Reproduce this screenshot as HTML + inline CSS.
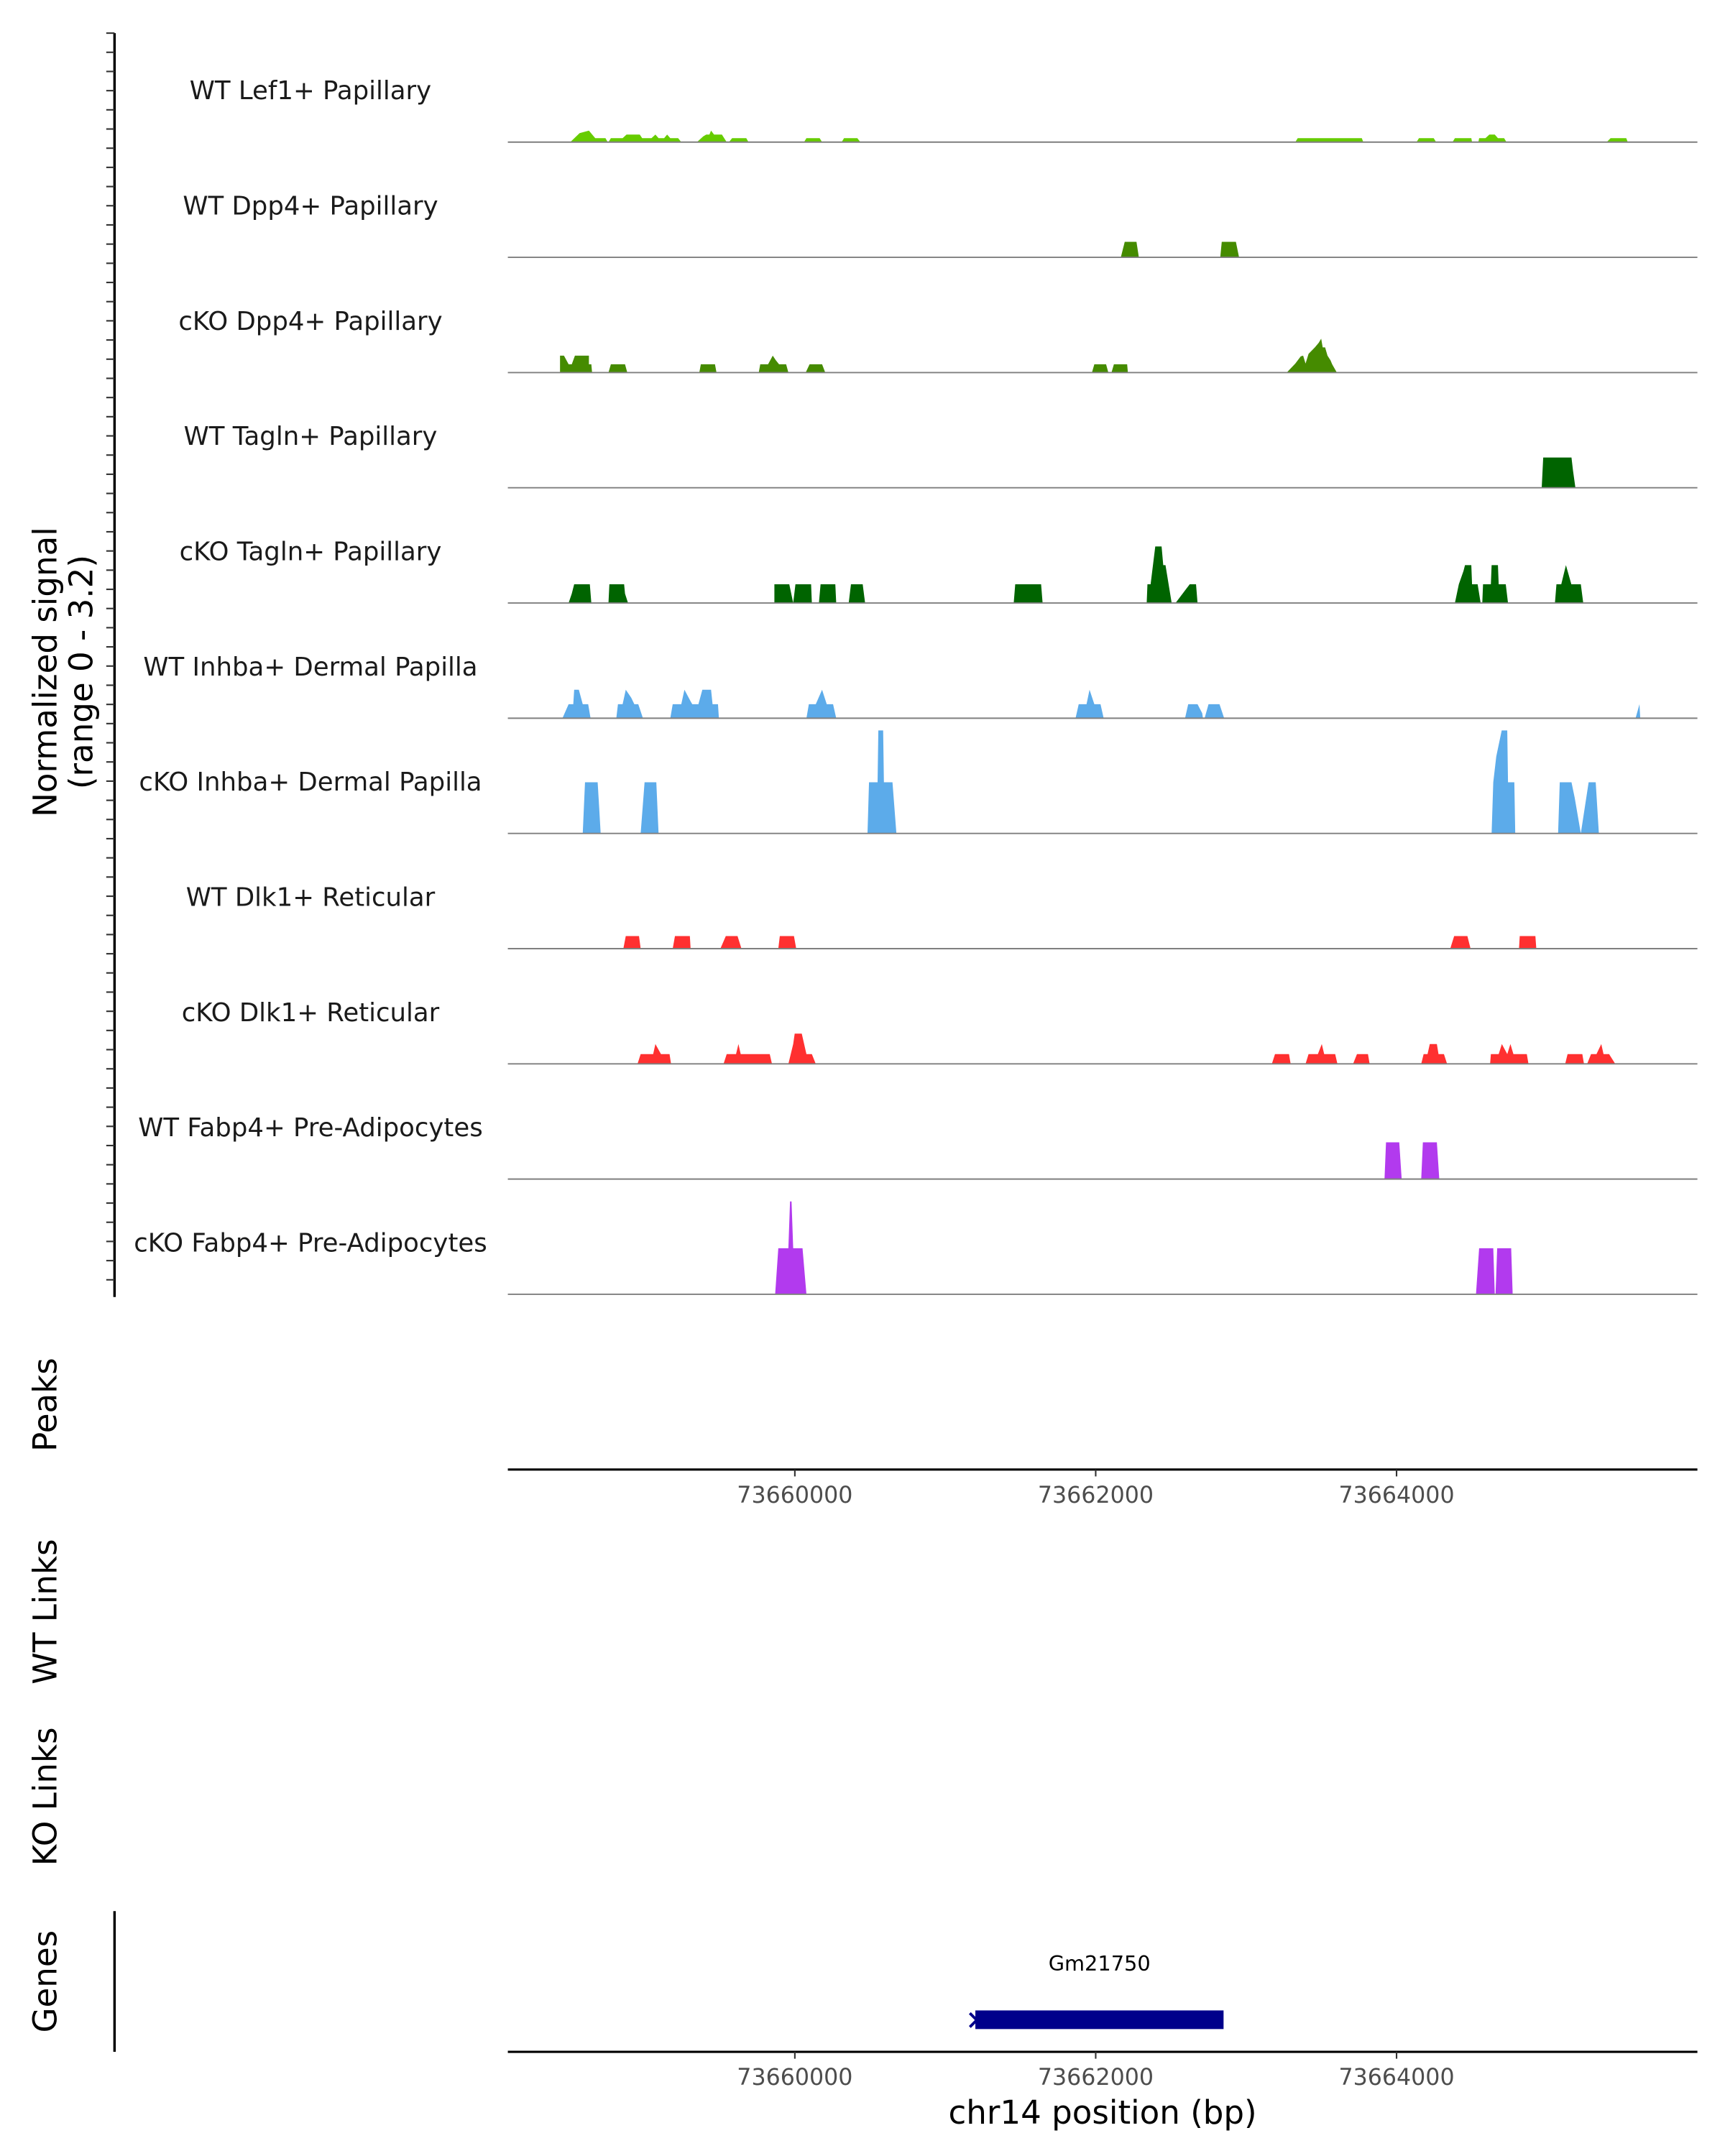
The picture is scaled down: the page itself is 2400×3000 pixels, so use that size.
<!DOCTYPE html>
<html><head><meta charset="utf-8"><style>
html,body{margin:0;padding:0;background:#fff;}
svg{display:block;}
text{font-family:"DejaVu Sans","Liberation Sans",sans-serif;}
</style></head><body>
<svg id="chart" width="2400" height="3000" viewBox="0 0 1250 1562.5" xmlns="http://www.w3.org/2000/svg">
<g id="axes"></g>
<g id="tracks"></g>
</svg>
<script>
const REGION_START = 73658092;
const REGION_END = 73666000;
const BASE = 73658020;
const Y_MAX = 3.2;
const trackNames = ["WT Lef1+ Papillary","WT Dpp4+ Papillary","cKO Dpp4+ Papillary","WT Tagln+ Papillary","cKO Tagln+ Papillary","WT Inhba+ Dermal Papilla","cKO Inhba+ Dermal Papilla","WT Dlk1+ Reticular","cKO Dlk1+ Reticular","WT Fabp4+ Pre-Adipocytes","cKO Fabp4+ Pre-Adipocytes"];
const trackColors = ["#66cc00","#458b00","#458b00","#006400","#006400","#5cabea","#5cabea","#ff3030","#ff3030","#b23aee","#b23aee"];
const xTicks = [73660000,73662000,73664000];
// peaks: flat [offsetFromBASE, value, ...]
const peaksLef1WT = [
 [487,0,549,0.25,611,0.32,653,0.11,721,0.11,736,0, 741,0,757,0.11,835,0.11,861,0.21,949,0.21,965,0.11,1027,0.11,1053,0.21,1074,0.11,1111,0.11,1131,0.21,1152,0.11,1204,0.11,1225,0],
 [1329,0,1371,0.16,1391,0.21,1412,0.21,1423,0.32,1443,0.21,1495,0.21,1527,0, 1542,0,1563,0.11,1657,0.11,1672,0],
 [2041,0,2057,0.11,2145,0.11,2161,0],[2291,0,2307,0.11,2395,0.11,2416,0],
 [5307,0,5323,0.11,5749,0.11,5759,0],
 [6113,0,6129,0.11,6227,0.11,6243,0],[6352,0,6368,0.11,6477,0.11,6482,0],
 [6524,0,6529,0.11,6571,0.11,6597,0.21,6633,0.21,6654,0.11,6695,0.11,6711,0],
 [7377,0,7403,0.11,7507,0.11,7517,0]];
const peaksDpp4WT = [[4147,0,4173,0.43,4251,0.43,4267,0],[4808,0,4818,0.43,4912,0.43,4933,0]];
const peaksDpp4KO = [
 [419,0,419,0.47,445,0.47,476,0.23,497,0.23,518,0.47,611,0.47,611,0.23,627,0.23,632,0],
 [741,0,757,0.23,851,0.23,866,0],[1345,0,1355,0.23,1449,0.23,1459,0],
 [1740,0,1750,0.23,1802,0.23,1833,0.47,1854,0.34,1875,0.23,1922,0.23,1937,0],
 [2052,0,2078,0.23,2161,0.23,2182,0],
 [3955,0,3971,0.23,4049,0.23,4064,0],[4085,0,4101,0.23,4189,0.23,4194,0],
 [5250,0,5307,0.25,5343,0.45,5359,0.47,5375,0.25,5395,0.52,5437,0.70,5463,0.83,5479,0.94,5489,0.70,5505,0.70,5521,0.47,5541,0.34,5552,0.23,5583,0]];
const peaksTaglnWT = [[6945,0,6955,0.84,7143,0.84,7153,0.48,7169,0]];
const peaksTaglnKO = [
 [476,0,497,0.26,513,0.52,617,0.52,627,0],[741,0,747,0.52,845,0.52,851,0.26,871,0],
 [1844,0,1844,0.52,1943,0.52,1969,0,1984,0.52,2088,0.52,2093,0],
 [2140,0,2151,0.52,2249,0.52,2255,0],[2338,0,2353,0.52,2431,0.52,2447,0],
 [3435,0,3445,0.52,3617,0.52,3627,0],
 [4319,0,4324,0.52,4345,0.52,4376,1.57,4418,1.57,4429,1.05,4444,1.05,4485,0],
 [4511,0,4605,0.52,4647,0.52,4657,0],
 [6368,0,6394,0.52,6425,0.89,6435,1.05,6477,1.05,6482,0.52,6519,0.52,6539,0],
 [6550,0,6555,0.52,6607,0.52,6612,1.05,6654,1.05,6659,0.52,6706,0.52,6721,0],
 [7033,0,7043,0.52,7075,0.52,7106,1.05,7142,0.52,7205,0.52,7221,0]];
const peaksInhbaWT = [
 [435,0,476,0.39,507,0.39,513,0.79,544,0.79,570,0.39,606,0.39,622,0],
 [793,0,804,0.39,835,0.39,856,0.79,892,0.57,913,0.39,939,0.39,970,0],
 [1152,0,1168,0.39,1225,0.39,1246,0.79,1287,0.47,1298,0.39,1339,0.39,1365,0.79,1423,0.79,1433,0.39,1469,0.39,1475,0],
 [2057,0,2073,0.39,2119,0.39,2161,0.79,2192,0.39,2234,0.39,2255,0],
 [3846,0,3867,0.39,3919,0.39,3939,0.79,3971,0.39,4012,0.39,4033,0],
 [4574,0,4595,0.39,4657,0.39,4688,0.14,4693,0],[4704,0,4730,0.39,4803,0.39,4834,0],
 [7569,0,7595,0.39,7600,0]];
const peaksInhbaKO = [
 [570,0,585,1.42,669,1.42,679,0.73,689,0],[955,0,981,1.42,1059,1.42,1074,0],
 [2463,0,2473,1.42,2530,1.42,2535,2.86,2567,2.86,2572,1.42,2629,1.42,2655,0],
 [6612,0,6623,1.42,6643,2.14,6679,2.86,6716,2.86,6721,1.42,6763,1.42,6769,0],
 [7054,0,7065,1.42,7143,1.42,7164,1.0,7205,0,7257,1.42,7304,1.42,7325,0]];
const peaksDlk1WT = [[840,0,856,0.35,944,0.35,955,0],[1168,0,1183,0.35,1282,0.35,1287,0],[1485,0,1521,0.35,1599,0.35,1625,0],[1870,0,1880,0.35,1974,0.35,1989,0],[6337,0,6363,0.35,6451,0.35,6472,0],[6794,0,6799,0.35,6903,0.35,6909,0]];
const peaksDlk1KO = [
 [934,0,955,0.27,1038,0.27,1053,0.55,1090,0.27,1147,0.27,1157,0],
 [1506,0,1527,0.27,1589,0.27,1605,0.55,1620,0.27,1813,0.27,1828,0],
 [1937,0,1969,0.55,1979,0.84,2026,0.84,2057,0.27,2093,0.27,2119,0],
 [5151,0,5172,0.27,5265,0.27,5276,0],
 [5375,0,5395,0.27,5457,0.27,5483,0.55,5499,0.27,5572,0.27,5587,0],
 [5691,0,5717,0.27,5790,0.27,5801,0],
 [6144,0,6160,0.27,6186,0.27,6201,0.55,6248,0.55,6259,0.27,6295,0.27,6316,0],
 [6602,0,6607,0.27,6659,0.27,6680,0.55,6716,0.27,6737,0.55,6757,0.27,6846,0.27,6857,0],
 [7101,0,7117,0.27,7215,0.27,7226,0],
 [7247,0,7273,0.27,7309,0.27,7341,0.55,7356,0.27,7393,0.27,7434,0]];
const peaksFabp4WT = [[5900,0,5910,1.02,5998,1.02,6014,0],[6144,0,6155,1.02,6248,1.02,6264,0]];
const peaksFabp4KO = [[1849,0,1870,1.28,1937,1.28,1948,2.58,1958,2.58,1969,1.28,2031,1.28,2057,0],[6508,0,6529,1.28,6623,1.28,6633,0],[6638,0,6649,1.28,6742,1.28,6752,0]];
const allPeaks = [peaksLef1WT,peaksDpp4WT,peaksDpp4KO,peaksTaglnWT,peaksTaglnKO,peaksInhbaWT,peaksInhbaKO,peaksDlk1WT,peaksDlk1KO,peaksFabp4WT,peaksFabp4KO];
const geneName = "Gm21750";
const geneStart = 73661200;
const geneEnd = 73662850;

const NS = "http://www.w3.org/2000/svg";
const X0 = 368, X1 = 1230, FIRST_BASE = 103, TRACK_H = 83.5;
function xScale(bp){ return X0 + (bp - REGION_START) * (X1 - X0) / (REGION_END - REGION_START); }
function yScale(v, i){ return FIRST_BASE + i * TRACK_H - v / Y_MAX * TRACK_H; }
function mk(tag, attrs, parent, text){
  const e = document.createElementNS(NS, tag);
  for (const k in attrs) e.setAttribute(k, attrs[k]);
  if (text !== undefined) e.textContent = text;
  parent.appendChild(e); return e;
}
const axes = document.getElementById('axes');
const tracks = document.getElementById('tracks');

trackNames.forEach((name, i) => {
  const g = mk('g', {}, tracks);
  
  
  const lbl = mk('text', {x: 225, y: FIRST_BASE + i*TRACK_H - 31, 'text-anchor':'middle', 'font-size':18.5, fill:'#1a1a1a'}, g, name);
  
  
  allPeaks[i].forEach(pk => {
    let pts = [];
    for (let j = 0; j < pk.length; j += 2) pts.push(xScale(BASE + pk[j]).toFixed(2) + ',' + yScale(pk[j+1], i).toFixed(2));
    const p = mk('polygon', {points: pts.join(' '), fill: trackColors[i]}, g);
    
    
  });
  const bl = mk('line', {x1: X0, x2: X1, y1: yScale(0,i), y2: yScale(0,i), stroke:'#7f7f7f', 'stroke-width':1}, g);
  
  
});

// left y axis
const ya = mk('line', {x1:83, x2:83, y1:24, y2:940, stroke:'#000', 'stroke-width':1.8}, axes);


for (let y = 24; y <= 940; y += 13.9) {
  const t = mk('line', {x1:77, x2:83, y1:y, y2:y, stroke:'#333', 'stroke-width':1.1}, axes);
  
  
}
function vtext(txt, x, y, size, name){
  const t = mk('text', {x:x, y:y, 'text-anchor':'middle', 'font-size':size, fill:'#000', transform:'rotate(-90 '+x+' '+y+')'}, axes, txt);
  
  
}
vtext('Normalized signal', 41, 487, 23.5, 'y-axis-title');
vtext('(range 0 - 3.2)', 67, 487, 23.5, 'y-axis-range');
vtext('Peaks', 41, 1018, 23.5, 'peaks-title');
vtext('WT Links', 41, 1168, 23.5, 'wt-links-title');
vtext('KO Links', 41, 1302, 23.5, 'ko-links-title');
vtext('Genes', 41, 1436, 23.5, 'genes-title');

const ga = mk('line', {x1:83, x2:83, y1:1385, y2:1487, stroke:'#000', 'stroke-width':1.8}, axes);



function xAxis(y, name){
  const l = mk('line', {x1:X0, x2:X1, y1:y, y2:y, stroke:'#000', 'stroke-width':1.6}, axes);
  
  
  xTicks.forEach(v => {
    const tk = mk('line', {x1:xScale(v), x2:xScale(v), y1:y, y2:y+5, stroke:'#333', 'stroke-width':1.1}, axes);
    
    
    const tl = mk('text', {x:xScale(v), y:y+24, 'text-anchor':'middle', 'font-size':16.5, fill:'#4d4d4d'}, axes, String(v));
    
    
  });
}
xAxis(1065, 'peaks-x-axis');
xAxis(1487, 'genes-x-axis');
const xt = mk('text', {x:799, y:1539, 'text-anchor':'middle', 'font-size':23.5, fill:'#000'}, axes, 'chr14 position (bp)');



// gene
const gg = mk('g', {}, tracks);


const gs = xScale(geneStart), ge = xScale(geneEnd);
mk('rect', {x:gs, y:1457, width:ge-gs, height:13.5, fill:'#00008b'}, gg);
mk('path', {d:'M'+(gs-4)+' 1459 L'+(gs+1)+' 1464 L'+(gs-4)+' 1469', stroke:'#00008b', 'stroke-width':2, fill:'none'}, gg);
const gl = mk('text', {x:(gs+ge)/2, y:1428, 'text-anchor':'middle', 'font-size':15, fill:'#000'}, gg, geneName);


</script>
</body></html>
